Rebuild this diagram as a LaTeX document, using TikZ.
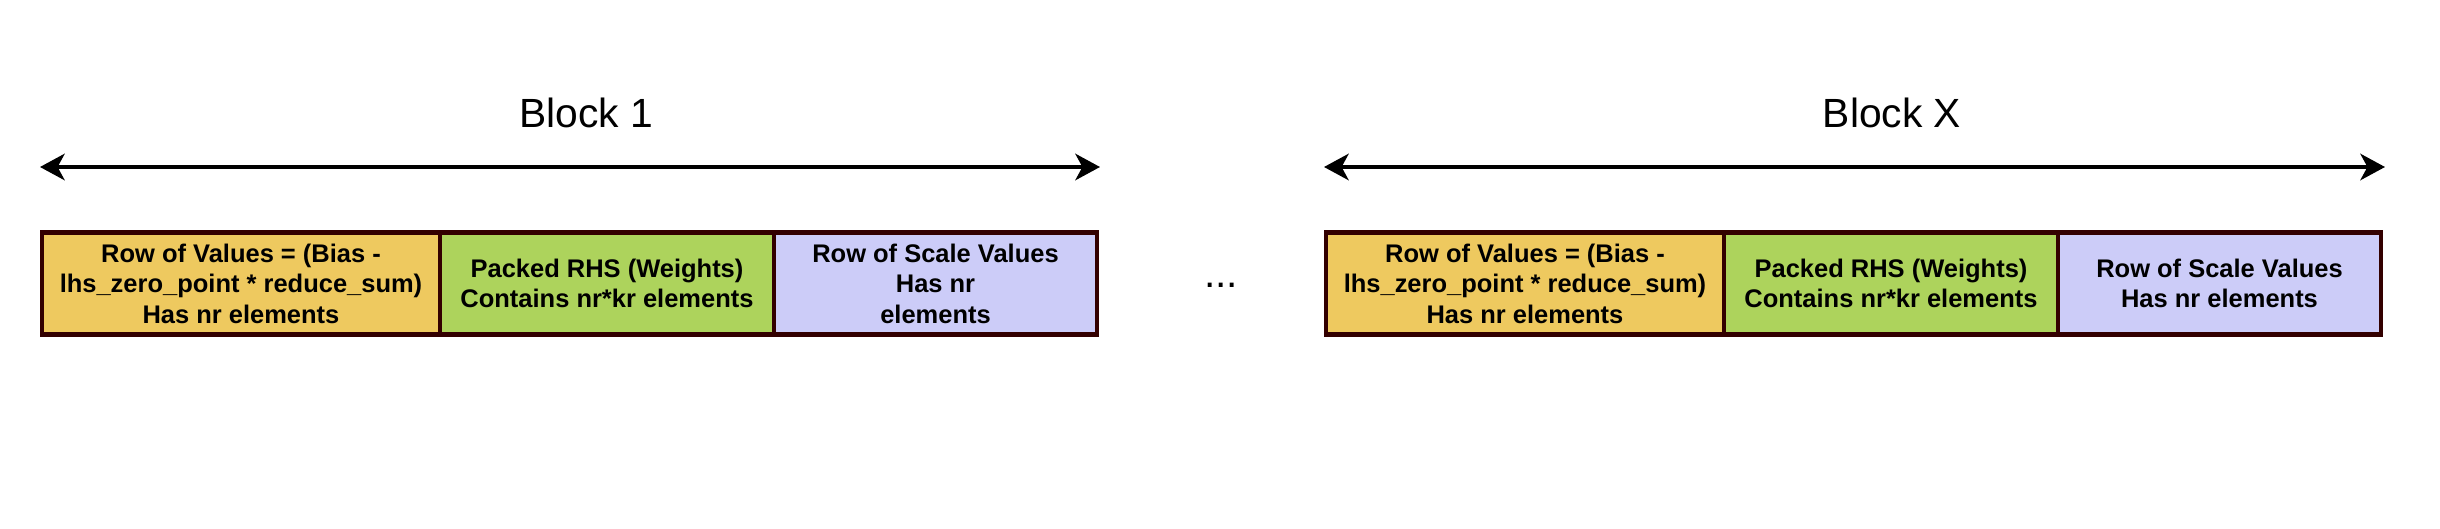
\documentclass[tikz,border=0pt]{standalone}
\usepackage{fontspec}
\setmainfont{Liberation Sans}
\usetikzlibrary{positioning,arrows.meta}
\definecolor{vals}{HTML}{EEC95F}
\definecolor{rhs}{HTML}{ADD35C}
\definecolor{scl}{HTML}{CCCCF8}
\definecolor{edge}{HTML}{330000}
\begin{document}
\begin{tikzpicture}[
    cell/.style = {draw = edge, line width = 2.6pt, minimum height = 2.04cm,
      inner sep = 0pt, outer sep = 0pt, align = center,
      font = \bfseries\fontsize{14.5}{17.4}\selectfont},
    span/.style = {line width = 2.4pt, <->,
      >={Stealth[length = 14pt, width = 15pt, inset = 4pt]}},
    title/.style = {font = \fontsize{23.2}{28}\selectfont}
  ]
    \useasboundingbox (0,0) rectangle (48.8,10.56);
    % first block
    \node [title] (t1) at (11.72,8.30) {Block 1};
    \coordinate (a1l) at (0.80,7.22);
    \coordinate (a1r) at (22.00,7.22);
    \draw [span] (a1l) -- (a1r);
    \node [cell, fill = vals, minimum width = 7.96cm, anchor = west] (vals1) at (0.84,4.89)
      {Row of Values = (Bias -\\lhs\_zero\_point * reduce\_sum)\\Has nr elements};
    \node [cell, fill = rhs, minimum width = 6.68cm, right = 0pt of vals1] (rhs1)
      {Packed RHS (Weights)\\Contains nr*kr elements};
    \node [cell, fill = scl, minimum width = 6.46cm, right = 0pt of rhs1] (scl1)
      {Row of Scale Values\\Has nr\\elements};
    % dots between
    \node [title, anchor = base] (dots) at (24.42,4.80) {...};
    % last block
    \node [title] (tX) at (37.84,8.30) {Block X};
    \coordinate (aXl) at (26.48,7.22);
    \coordinate (aXr) at (47.70,7.22);
    \draw [span] (aXl) -- (aXr);
    \node [cell, fill = vals, minimum width = 7.96cm, anchor = west] (valsX) at (26.52,4.89)
      {Row of Values = (Bias -\\lhs\_zero\_point * reduce\_sum)\\Has nr elements};
    \node [cell, fill = rhs, minimum width = 6.68cm, right = 0pt of valsX] (rhsX)
      {Packed RHS (Weights)\\Contains nr*kr elements};
    \node [cell, fill = scl, minimum width = 6.46cm, right = 0pt of rhsX] (sclX)
      {Row of Scale Values\\Has nr elements};
  \end{tikzpicture}
\end{document}
